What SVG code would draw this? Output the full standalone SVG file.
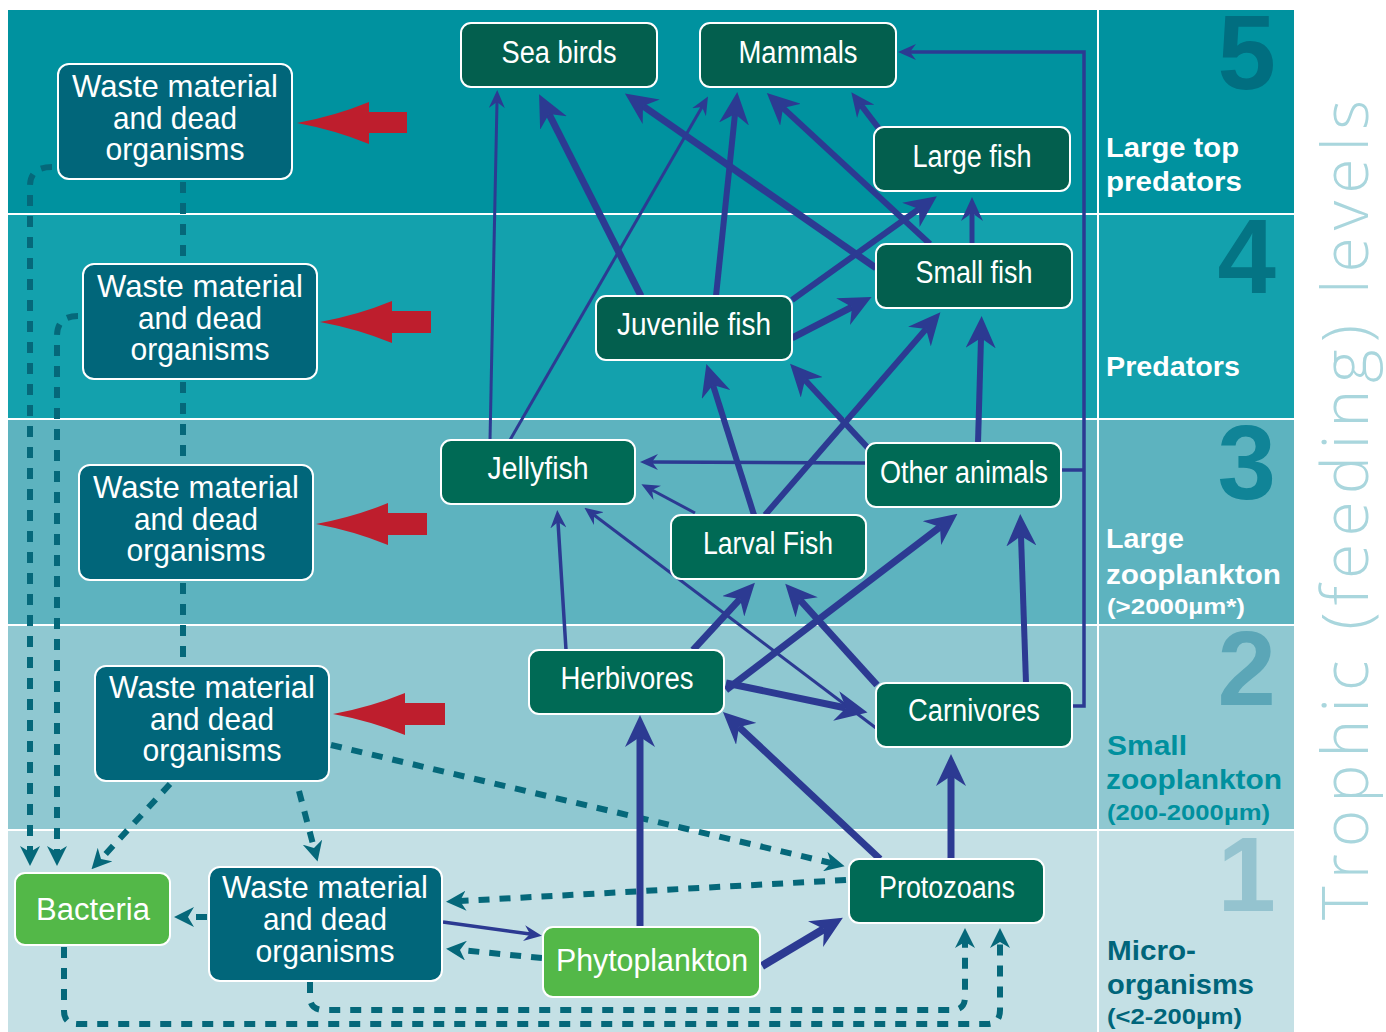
<svg xmlns="http://www.w3.org/2000/svg" width="1386" height="1032" viewBox="0 0 1386 1032">
<style>
.nd rect{stroke:#fff;stroke-width:2}
.w rect{fill:#01667a}
.g rect{fill:#006a55}
.gt rect{fill:#035f4e}
.p rect{fill:#53b848}
.nd text{font-family:"Liberation Sans",Arial,sans-serif;fill:#fff;text-anchor:middle;font-size:31px}
.w text{font-size:32px}
.lab{font-family:"Liberation Sans",Arial,sans-serif;font-weight:bold;font-size:27px}
.sub{font-size:22px}
.num{font-family:"Liberation Sans",Arial,sans-serif;font-weight:bold;font-size:105px;text-anchor:end}
.s{stroke:#2c3a92;fill:none}
.d{stroke:#05687a;fill:none;stroke-width:6;stroke-dasharray:11 10}
.red{fill:#be1e2d}
</style>
<defs>
<marker id="B" markerUnits="userSpaceOnUse" viewBox="0 0 32 30" markerWidth="32" markerHeight="30" refX="10" refY="15" orient="auto"><path d="M0,0 L32,15 L0,30 L10,15 Z" fill="#2c3a92"/></marker>
<marker id="M" markerUnits="userSpaceOnUse" viewBox="0 0 24 22" markerWidth="24" markerHeight="22" refX="8" refY="11" orient="auto"><path d="M0,0 L24,11 L0,22 L8,11 Z" fill="#2c3a92"/></marker>
<marker id="S" markerUnits="userSpaceOnUse" viewBox="0 0 18 16" markerWidth="18" markerHeight="16" refX="6" refY="8" orient="auto"><path d="M0,0 L18,8 L0,16 L6,8 Z" fill="#2c3a92"/></marker>
<marker id="D" markerUnits="userSpaceOnUse" viewBox="0 0 20 20" markerWidth="20" markerHeight="20" refX="6" refY="10" orient="auto"><path d="M0,0 L20,10 L0,20 L6,10 Z" fill="#05687a"/></marker>
</defs>
<rect width="1386" height="1032" fill="#fff"/>
<g id="bands">
<rect x="8" y="10" width="1089" height="203" fill="#00929f"/>
<rect x="8" y="215" width="1089" height="203" fill="#13a1ad"/>
<rect x="8" y="420" width="1089" height="204" fill="#5db3bf"/>
<rect x="8" y="626" width="1089" height="203" fill="#8fc8d1"/>
<rect x="8" y="831" width="1089" height="201" fill="#c4e0e5"/>
<rect x="1099" y="10" width="195" height="203" fill="#00929f"/>
<rect x="1099" y="215" width="195" height="203" fill="#13a1ad"/>
<rect x="1099" y="420" width="195" height="204" fill="#5db3bf"/>
<rect x="1099" y="626" width="195" height="203" fill="#8fc8d1"/>
<rect x="1099" y="831" width="195" height="201" fill="#c4e0e5"/>
</g>
<g id="levels">
<text class="num" x="1276" y="89" fill="#016e80">5</text>
<text class="num" x="1276" y="293" fill="#047484">4</text>
<text class="num" x="1276" y="499" fill="#108497">3</text>
<text class="num" x="1276" y="705" fill="#5ba6b7">2</text>
<text class="num" x="1276" y="911" fill="#94c3cf">1</text>
<text class="lab" fill="#fff" lengthAdjust="spacingAndGlyphs"><tspan x="1106" y="157" textLength="133" lengthAdjust="spacingAndGlyphs">Large top</tspan><tspan x="1106" y="191" textLength="136" lengthAdjust="spacingAndGlyphs">predators</tspan></text>
<text class="lab" fill="#fff" x="1106" y="376" textLength="134" lengthAdjust="spacingAndGlyphs">Predators</text>
<text class="lab" fill="#fff"><tspan x="1106" y="548" textLength="78" lengthAdjust="spacingAndGlyphs">Large</tspan><tspan x="1106" y="584" textLength="175" lengthAdjust="spacingAndGlyphs">zooplankton</tspan><tspan class="sub" x="1107" y="614" textLength="138" lengthAdjust="spacingAndGlyphs">(&gt;2000µm*)</tspan></text>
<text class="lab" fill="#00909e"><tspan x="1107" y="755" textLength="80" lengthAdjust="spacingAndGlyphs">Small</tspan><tspan x="1106" y="789" textLength="176" lengthAdjust="spacingAndGlyphs">zooplankton</tspan><tspan class="sub" x="1107" y="820" textLength="163" lengthAdjust="spacingAndGlyphs">(200-2000µm)</tspan></text>
<text class="lab" fill="#00657a"><tspan x="1107" y="960" textLength="89" lengthAdjust="spacingAndGlyphs">Micro-</tspan><tspan x="1107" y="994" textLength="147" lengthAdjust="spacingAndGlyphs">organisms</tspan><tspan class="sub" x="1107" y="1024" textLength="135" lengthAdjust="spacingAndGlyphs">(&lt;2-200µm)</tspan></text>
<text transform="translate(1368,920) rotate(-90)" x="0" y="0" font-family="'Open Sans','Liberation Sans',sans-serif" font-weight="300" font-size="64" fill="#a9d6dd" textLength="820">Trophic (feeding) levels</text>
</g>
<g id="red-arrows" class="red">
<path d="M297,123 Q335,116 369,102 L369,112 L407,112 L407,133 L369,133 L369,144 Q335,130 297,123 Z"/>
<path d="M320,322 Q358,315 392,301 L392,311 L431,311 L431,333 L392,333 L392,343 Q358,329 320,322 Z"/>
<path d="M316,524 Q354,517 388,503 L388,513 L427,513 L427,535 L388,535 L388,545 Q354,531 316,524 Z"/>
<path d="M333,714 Q371,707 405,693 L405,703 L445,703 L445,725 L405,725 L405,735 Q371,721 333,714 Z"/>
</g>
<g id="connectors">
<path class="d" d="M52,167 Q30,167 30,186 V852" marker-end="url(#D)"/>
<path class="d" d="M78,316 Q57,316 57,336 V852" marker-end="url(#D)"/>
<path class="d" d="M183,182 V262"/>
<path class="d" d="M183,382 V463"/>
<path class="d" d="M183,583 V664"/>
<path class="d" d="M170,784 L101,859" marker-end="url(#D)"/>
<path class="d" d="M299,791 L314,848" marker-end="url(#D)"/>
<path class="d" d="M331,745 L831,863" marker-end="url(#D)"/>
<path class="d" d="M846,880 L460,901" marker-end="url(#D)"/>
<path class="d" d="M542,958 L460,950" marker-end="url(#D)"/>
<path class="d" d="M207,917 L188,917" marker-end="url(#D)"/>
<path class="d" stroke-width="5" d="M64,947 V1011 Q64,1024 78,1024 H987 Q1000,1024 1000,1010 V942" marker-end="url(#D)"/>
<path class="d" stroke-width="5" d="M310,982 V997 Q310,1010 324,1010 H952 Q965,1010 965,997 V942" marker-end="url(#D)"/>
<path class="s" stroke-width="3" d="M490,440 L497,102" marker-end="url(#S)"/>
<path class="s" stroke-width="3" d="M510,440 L702,107" marker-end="url(#S)"/>
<path class="s" stroke-width="7" d="M641,296 L549,114" marker-end="url(#B)"/>
<path class="s" stroke-width="6" d="M716,296 L735,114" marker-end="url(#B)"/>
<path class="s" stroke-width="7" d="M876,268 L643,106" marker-end="url(#B)"/>
<path class="s" stroke-width="6" d="M930,244 L783,108" marker-end="url(#B)"/>
<path class="s" stroke-width="6" d="M880,130 L861,105" marker-end="url(#M)"/>
<path class="s" stroke-width="5" d="M972,244 L972,213" marker-end="url(#M)"/>
<path class="s" stroke-width="6" d="M792,300 L919,209" marker-end="url(#B)"/>
<path class="s" stroke-width="7" d="M792,338 L852,307" marker-end="url(#B)"/>
<path class="s" stroke-width="6" d="M754,515 L713,385" marker-end="url(#B)"/>
<path class="s" stroke-width="6" d="M765,515 L926,329" marker-end="url(#B)"/>
<path class="s" stroke-width="6" d="M868,448 L805,380" marker-end="url(#B)"/>
<path class="s" stroke-width="6" d="M978,443 L981,338" marker-end="url(#B)"/>
<path class="s" stroke-width="3.5" d="M866,463 L652,462" marker-end="url(#S)"/>
<path class="s" stroke-width="3" d="M695,513 L652,490" marker-end="url(#S)"/>
<path class="s" stroke-width="3" d="M876,728 L594,515" marker-end="url(#S)"/>
<path class="s" stroke-width="3.5" d="M566,650 L558,522" marker-end="url(#S)"/>
<path class="s" stroke-width="7" d="M693,650 L740,599" marker-end="url(#B)"/>
<path class="s" stroke-width="7" d="M877,685 L800,600" marker-end="url(#B)"/>
<path class="s" stroke-width="7" d="M726,690 L940,527" marker-end="url(#B)"/>
<path class="s" stroke-width="7" d="M726,683 L846,708" marker-end="url(#B)"/>
<path class="s" stroke-width="6" d="M1026,683 L1021,536" marker-end="url(#B)"/>
<path class="s" stroke-width="3.5" d="M1072,706 H1084 V52 H910" marker-end="url(#S)"/>
<path class="s" stroke-width="3.5" d="M1061,470 H1084"/>
<path class="s" stroke-width="7" d="M640,927 L640,737" marker-end="url(#B)"/>
<path class="s" stroke-width="7" d="M880,859 L739,727" marker-end="url(#B)"/>
<path class="s" stroke-width="7" d="M951,859 L951,776" marker-end="url(#B)"/>
<path class="s" stroke-width="8" d="M762,966 L824,929" marker-end="url(#B)"/>
<path class="s" stroke-width="3.5" d="M443,922 L530,934" marker-end="url(#S)"/>
</g>
<g id="waste1" class="nd w"><rect x="58" y="64" width="234" height="115" rx="11"/><text><tspan x="175" y="97" textLength="206" lengthAdjust="spacingAndGlyphs">Waste material</tspan><tspan x="175" y="129" textLength="124" lengthAdjust="spacingAndGlyphs">and dead</tspan><tspan x="175" y="160" textLength="139" lengthAdjust="spacingAndGlyphs">organisms</tspan></text></g>
<g id="waste2" class="nd w"><rect x="83" y="264" width="234" height="115" rx="11"/><text><tspan x="200" y="297" textLength="206" lengthAdjust="spacingAndGlyphs">Waste material</tspan><tspan x="200" y="329" textLength="124" lengthAdjust="spacingAndGlyphs">and dead</tspan><tspan x="200" y="360" textLength="139" lengthAdjust="spacingAndGlyphs">organisms</tspan></text></g>
<g id="waste3" class="nd w"><rect x="79" y="465" width="234" height="115" rx="11"/><text><tspan x="196" y="498" textLength="206" lengthAdjust="spacingAndGlyphs">Waste material</tspan><tspan x="196" y="530" textLength="124" lengthAdjust="spacingAndGlyphs">and dead</tspan><tspan x="196" y="561" textLength="139" lengthAdjust="spacingAndGlyphs">organisms</tspan></text></g>
<g id="waste4" class="nd w"><rect x="95" y="666" width="234" height="115" rx="11"/><text><tspan x="212" y="698" textLength="206" lengthAdjust="spacingAndGlyphs">Waste material</tspan><tspan x="212" y="730" textLength="124" lengthAdjust="spacingAndGlyphs">and dead</tspan><tspan x="212" y="761" textLength="139" lengthAdjust="spacingAndGlyphs">organisms</tspan></text></g>
<g id="waste5" class="nd w"><rect x="209" y="867" width="233" height="114" rx="11"/><text><tspan x="325" y="898" textLength="206" lengthAdjust="spacingAndGlyphs">Waste material</tspan><tspan x="325" y="930" textLength="124" lengthAdjust="spacingAndGlyphs">and dead</tspan><tspan x="325" y="962" textLength="139" lengthAdjust="spacingAndGlyphs">organisms</tspan></text></g>
<g id="seabirds" class="nd gt"><rect x="461" y="23" width="196" height="64" rx="10"/><text x="559" y="63" textLength="115" lengthAdjust="spacingAndGlyphs">Sea birds</text></g>
<g id="mammals" class="nd gt"><rect x="700" y="23" width="196" height="64" rx="10"/><text x="798" y="63" textLength="119" lengthAdjust="spacingAndGlyphs">Mammals</text></g>
<g id="largefish" class="nd gt"><rect x="874" y="127" width="196" height="64" rx="10"/><text x="972" y="167" textLength="119" lengthAdjust="spacingAndGlyphs">Large fish</text></g>
<g id="smallfish" class="nd gt"><rect x="876" y="244" width="196" height="64" rx="10"/><text x="974" y="283" textLength="117" lengthAdjust="spacingAndGlyphs">Small fish</text></g>
<g id="juvenilefish" class="nd gt"><rect x="596" y="296" width="196" height="64" rx="10"/><text x="694" y="335" textLength="154" lengthAdjust="spacingAndGlyphs">Juvenile fish</text></g>
<g id="jellyfish" class="nd g"><rect x="441" y="440" width="194" height="64" rx="10"/><text x="538" y="479" textLength="101" lengthAdjust="spacingAndGlyphs">Jellyfish</text></g>
<g id="otheranimals" class="nd g"><rect x="866" y="443" width="195" height="64" rx="10"/><text x="964" y="483" textLength="168" lengthAdjust="spacingAndGlyphs">Other animals</text></g>
<g id="larvalfish" class="nd g"><rect x="671" y="515" width="195" height="64" rx="10"/><text x="768" y="554" textLength="130" lengthAdjust="spacingAndGlyphs">Larval Fish</text></g>
<g id="herbivores" class="nd g"><rect x="529" y="650" width="195" height="64" rx="10"/><text x="627" y="689" textLength="133" lengthAdjust="spacingAndGlyphs">Herbivores</text></g>
<g id="carnivores" class="nd g"><rect x="876" y="683" width="196" height="64" rx="10"/><text x="974" y="721" textLength="132" lengthAdjust="spacingAndGlyphs">Carnivores</text></g>
<g id="protozoans" class="nd g"><rect x="849" y="859" width="195" height="64" rx="10"/><text x="947" y="898" textLength="136" lengthAdjust="spacingAndGlyphs">Protozoans</text></g>
<g id="phytoplankton" class="nd p"><rect x="543" y="927" width="217" height="70" rx="10"/><text x="652" y="971" textLength="192" lengthAdjust="spacingAndGlyphs">Phytoplankton</text></g>
<g id="bacteria" class="nd p"><rect x="15" y="873" width="155" height="72" rx="10"/><text x="93" y="920" textLength="114">Bacteria</text></g>
</svg>
